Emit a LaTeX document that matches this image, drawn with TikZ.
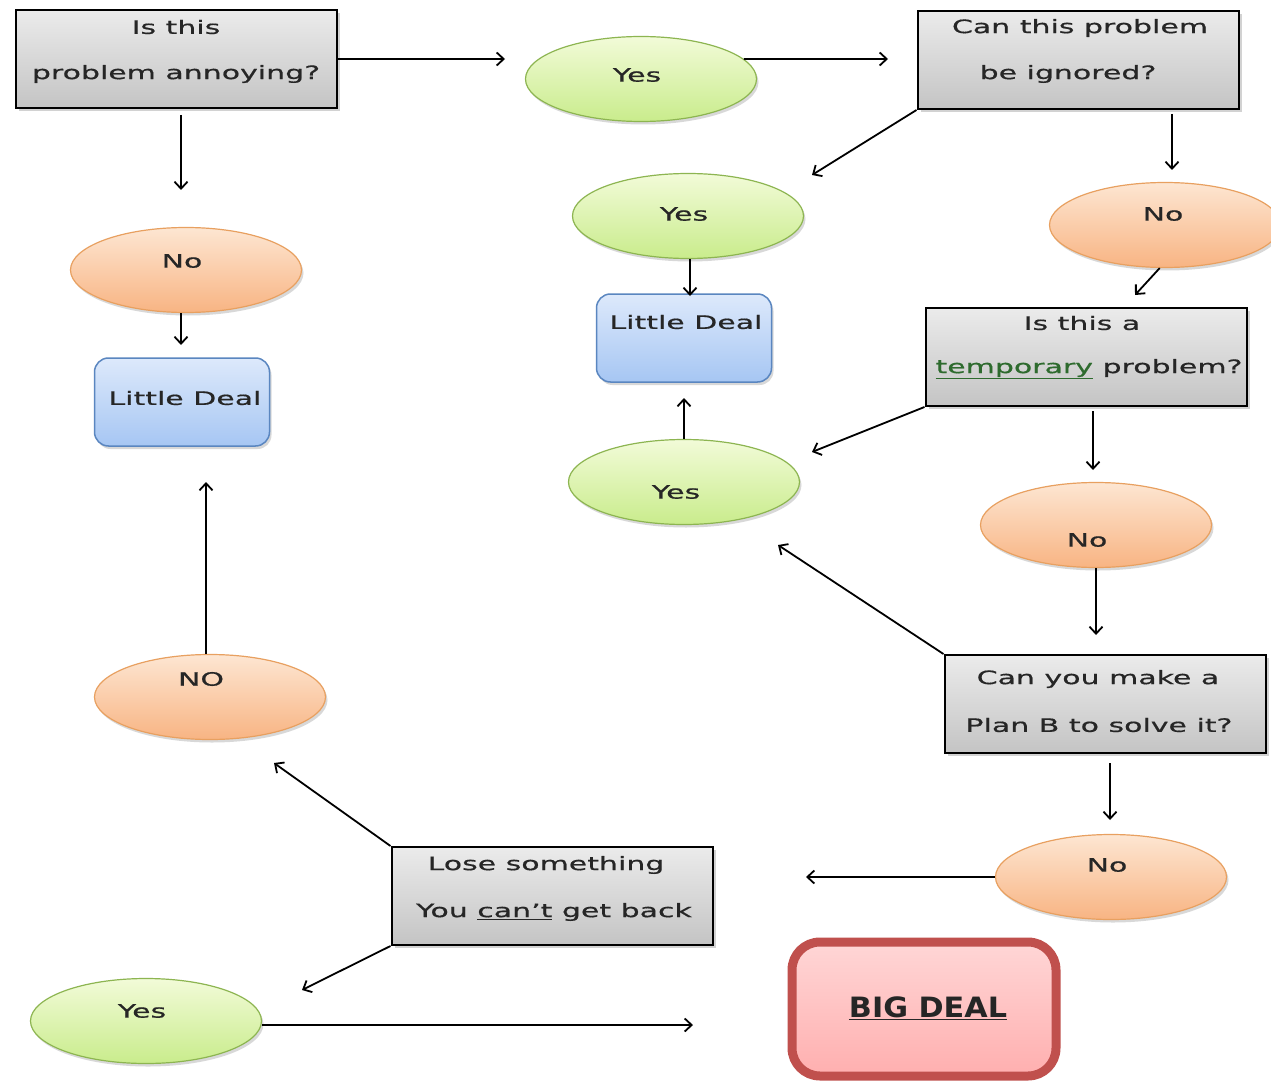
\documentclass[tikz,border=0pt]{standalone}
\usepackage{fontspec}
\setmainfont{DejaVu Sans}[FakeStretch=1.62,FakeBold=0.6]
\newfontfamily\bigdealfont{DejaVu Sans}[FakeStretch=1.08]
\usetikzlibrary{shapes.geometric,shadows,arrows.meta}
\definecolor{txtc}{HTML}{262626}
\definecolor{gtop}{HTML}{EBEBEB}
\definecolor{gbot}{HTML}{C4C4C4}
\definecolor{grtop}{HTML}{F2FBD8}
\definecolor{grbot}{HTML}{C9EC8C}
\definecolor{grbd}{HTML}{8DB551}
\definecolor{ortop}{HTML}{FDE6D2}
\definecolor{orbot}{HTML}{F8B483}
\definecolor{orbd}{HTML}{E8A060}
\definecolor{bltop}{HTML}{DDE9FB}
\definecolor{blbot}{HTML}{A6C6F3}
\definecolor{blbd}{HTML}{5A86C0}
\definecolor{rdtop}{HTML}{FFD6D6}
\definecolor{rdbot}{HTML}{FFAFAF}
\definecolor{rdbd}{HTML}{C0504D}
\definecolor{lnk}{HTML}{2E6B2E}
\tikzset{
  gbox/.style={rectangle,draw=black,line width=2pt,top color=gtop,bottom color=gbot,
    minimum width=321pt,minimum height=98pt,inner sep=0pt,
    drop shadow={shadow xshift=3pt,shadow yshift=-3pt,opacity=0.35}},
  grell/.style={ellipse,draw=grbd,line width=1.2pt,top color=grtop,bottom color=grbot,
    minimum width=231pt,minimum height=85pt,inner sep=0pt,
    drop shadow={shadow xshift=2pt,shadow yshift=-3pt,opacity=0.3}},
  orell/.style={ellipse,draw=orbd,line width=1.2pt,top color=ortop,bottom color=orbot,
    minimum width=231pt,minimum height=85pt,inner sep=0pt,
    drop shadow={shadow xshift=2pt,shadow yshift=-3pt,opacity=0.3}},
  blbox/.style={rectangle,rounded corners=14pt,draw=blbd,line width=1.5pt,top color=bltop,bottom color=blbot,
    minimum width=175pt,minimum height=88pt,inner sep=0pt,
    drop shadow={shadow xshift=2pt,shadow yshift=-3pt,opacity=0.3}},
  bigbox/.style={rectangle,rounded corners=28pt,draw=rdbd,line width=9pt,top color=rdtop,bottom color=rdbot,
    minimum width=264pt,minimum height=134pt,inner sep=0pt,
    drop shadow={shadow xshift=2pt,shadow yshift=-3pt,opacity=0.3}},
  txt/.style={inner sep=0pt,text=txtc,font=\fontsize{18.5}{22}\selectfont},
  arr/.style={draw=black,line width=1.8pt,-{Straight Barb[length=7pt,width=13pt]}}
}
\begin{document}
\begin{tikzpicture}[x=1pt,y=-1pt]
\useasboundingbox[fill=white] (0,0) rectangle (1271,1083);
% boxes
\node[gbox] (A) at (176,59) {};
\node[txt] (At1) at (176,27) {Is this};
\node[txt] (At2) at (176,74) {problem annoying?};
\node[gbox] (B) at (1078,60) {};
\node[txt] (Bt1) at (1080,28) {Can this problem};
\node[txt] (Bt2) at (1068,74) {be ignored?};
\node[gbox] (C) at (1086,357) {};
\node[txt] (Ct1) at (1082,323) {Is this a};
\node[txt] (Ct2) at (1089,369) {\textcolor{lnk}{\underline{temporary}} problem?};
\node[gbox] (D) at (1105,704) {};
\node[txt] (Dt1) at (1098,679) {Can you make a};
\node[txt] (Dt2) at (1099,725) {Plan B to solve it?};
\node[gbox] (E) at (552,896) {};
\node[txt] (Et1) at (546,865) {Lose something};
\node[txt] (Et2) at (554,912) {You \underline{can't} get back};
% ellipses
\node[grell] (Y1) at (641,79) {};
\node[txt] (Y1t) at (637,75) {Yes};
\node[grell] (Y2) at (688,216) {};
\node[txt] (Y2t) at (684,214) {Yes};
\node[grell] (Y3) at (684,482) {};
\node[txt] (Y3t) at (676,492) {Yes};
\node[grell] (Y4) at (146,1021) {};
\node[txt] (Y4t) at (142,1011) {Yes};
\node[orell] (N0) at (186,270) {};
\node[txt] (N0t) at (182,261) {No};
\node[orell] (N1) at (1165,225) {};
\node[txt] (N1t) at (1163,214) {No};
\node[orell] (N2) at (1096,525) {};
\node[txt] (N2t) at (1087,540) {No};
\node[orell] (N3) at (1111,877) {};
\node[txt] (N3t) at (1107,865) {No};
\node[orell] (NO) at (210,697) {};
\node[txt] (NOt) at (201,679) {NO};
% little deal
\node[blbox] (L1) at (182,402) {};
\node[txt] (L1t) at (185,398) {Little Deal};
\node[blbox] (L2) at (684,338) {};
\node[txt] (L2t) at (686,322) {Little Deal};
% big deal
\node[bigbox] (BD) at (924,1009) {};
\node[inner sep=0pt,text=txtc,font=\bigdealfont\fontsize{28}{32}\selectfont\bfseries] (BDt) at (928,1008) {\underline{BIG DEAL}};
% arrow end points
\coordinate (c1) at (505,59);
\coordinate (c1b) at (888,59);
\coordinate (c2) at (812,175);
\coordinate (c3) at (1172,170);
\coordinate (c3b) at (1135,295);
\coordinate (c4) at (812,452);
\coordinate (c5) at (1093,470);
\coordinate (c6) at (684,398);
\coordinate (c7) at (1096,635);
\coordinate (c8) at (778,545);
\coordinate (c9) at (1110,820);
\coordinate (c10) at (806,877);
\coordinate (c11) at (274,763);
\coordinate (c12) at (302,990);
\coordinate (c13) at (693,1025);
\coordinate (c14) at (206,482);
\coordinate (c15) at (181,190);
\coordinate (c16) at (181,345);
\coordinate (c17) at (690,296);
% arrows
\draw[arr] (A.east) -- (c1);
\draw[arr] (Y1.11) -- (c1b);
\draw[arr] (B.south west) -- (c2);
\draw[arr] ([yshift=-4pt]B.south -| c3) -- (c3);
\draw[arr] (N1.263) -- (c3b);
\draw[arr] (Y2.south -| c17) -- (c17);
\draw[arr] (C.south west) -- (c4);
\draw[arr] ([yshift=-4pt]C.south -| c5) -- (c5);
\draw[arr] (Y3.north) -- (c6);
\draw[arr] (N2.south) -- (c7);
\draw[arr] (D.north west) -- (c8);
\draw[arr] ([yshift=-9pt]D.south -| c9) -- (c9);
\draw[arr] (N3.west) -- (c10);
\draw[arr] (E.north west) -- (c11);
\draw[arr] (E.south west) -- (c12);
\draw[arr] (Y4.east |- c13) -- (c13);
\draw[arr] (NO.north -| c14) -- (c14);
\draw[arr] ([yshift=-6pt]A.south -| c15) -- (c15);
\draw[arr] (N0.south -| c16) -- (c16);
\end{tikzpicture}
\end{document}
